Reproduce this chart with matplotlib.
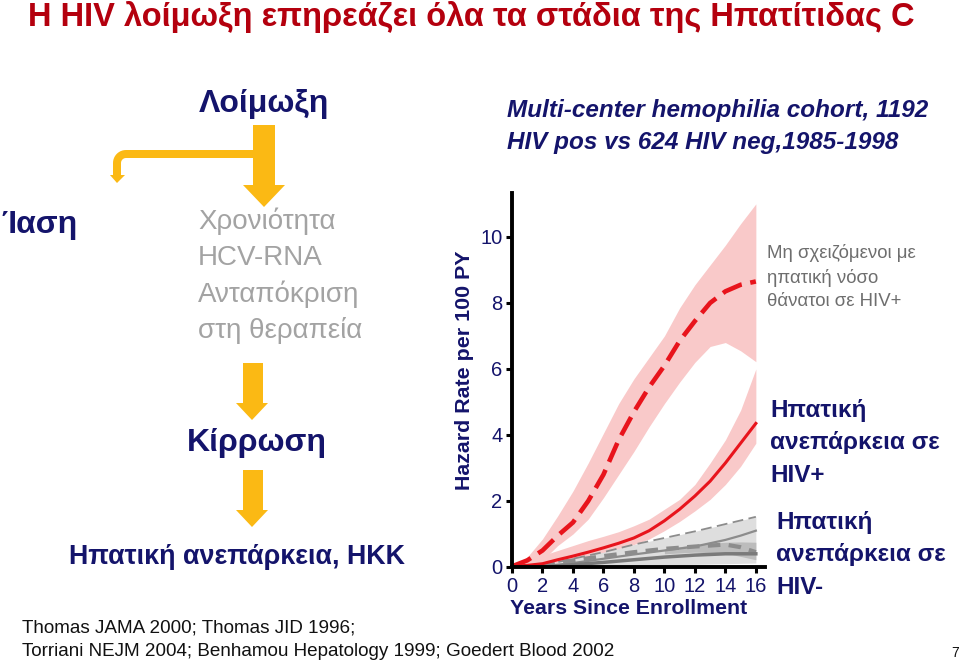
import matplotlib
matplotlib.use("Agg")
import matplotlib.pyplot as plt
from matplotlib.patches import Polygon
import numpy as np

plt.rcParams['font.family'] = ['Liberation Sans', 'DejaVu Sans']

# ---------------- data ----------------
years = [0, 1, 2, 3, 4, 5, 6, 7, 8, 9, 10, 11, 12, 13, 14, 15, 16]
# non-liver deaths in HIV+ (dashed red) with CI
nonliver_hivpos = [0.02, 0.2, 0.5, 0.95, 1.35, 2.0, 2.8, 3.85, 4.7, 5.45, 6.1, 6.85, 7.45, 8.0, 8.35, 8.55, 8.65]
nonliver_hi = [0.05, 0.3, 0.85, 1.55, 2.3, 3.15, 4.05, 4.95, 5.7, 6.35, 7.0, 7.85, 8.55, 9.15, 9.75, 10.4, 11.0]
nonliver_lo = [0.0, 0.05, 0.2, 0.65, 1.0, 1.45, 2.1, 2.8, 3.5, 4.25, 4.95, 5.6, 6.2, 6.68, 6.8, 6.55, 6.22]
# liver failure in HIV+ (solid red) with CI
liver_hivpos = [0.02, 0.05, 0.1, 0.22, 0.33, 0.45, 0.58, 0.72, 0.88, 1.1, 1.4, 1.75, 2.15, 2.6, 3.15, 3.75, 4.35]
liver_hi = [0.05, 0.2, 0.35, 0.5, 0.65, 0.8, 0.93, 1.07, 1.25, 1.45, 1.75, 2.05, 2.5, 3.15, 3.85, 4.75, 6.0]
liver_lo = [0.0, 0.0, 0.0, 0.05, 0.15, 0.27, 0.38, 0.52, 0.68, 0.85, 1.1, 1.38, 1.7, 2.05, 2.5, 3.05, 3.75]

# HIV- curves (gray)
years_neg = [2, 4, 6, 8, 10, 12, 14, 15, 16]
neg_band_hi = [0.05, 0.25, 0.45, 0.68, 0.88, 1.08, 1.3, 1.41, 1.52]
neg_band_lo = [0.0, 0.0, 0.02, 0.05, 0.07, 0.08, 0.1, 0.11, 0.12]
neg_solid_hi = [0.02, 0.12, 0.25, 0.38, 0.5, 0.62, 0.82, 0.95, 1.1]
neg_dashed = [0.05, 0.2, 0.33, 0.45, 0.55, 0.62, 0.68, 0.6, 0.45]
neg_solid_lo = [0.0, 0.07, 0.14, 0.22, 0.3, 0.36, 0.4, 0.4, 0.4]
years_neg_mid = [10, 12, 14, 15, 16]
neg_mid_hi = [0.55, 0.68, 0.75, 0.76, 0.75]
neg_mid_lo = [0.4, 0.45, 0.42, 0.32, 0.22]

xticks = [0, 2, 4, 6, 8, 10, 12, 14, 16]
yticks = [0, 2, 4, 6, 8, 10]

# ---------------- style ----------------
NAVY = '#14146b'
RED = '#e8141c'
PINK = '#f9c9c9'
GOLD = '#fbb914'
GREYTXT = '#a3a3a3'

W, H = 960, 665
fig = plt.figure(figsize=(W / 100, H / 100), dpi=100)
fig.patch.set_facecolor('white')


def fx(x):
    return x / W


def fy(y):
    return 1 - y / H


def ftext(x, y, s, **kw):
    fig.text(fx(x), fy(y), s, **kw)


def farrow(pts):
    poly = Polygon([(fx(a), fy(b)) for a, b in pts], closed=True,
                   transform=fig.transFigure, facecolor=GOLD, edgecolor='none')
    fig.add_artist(poly)


# ---------------- chart ----------------
ax = fig.add_axes([fx(512), fy(567), 253 / W, (567 - 193) / H])
ax.set_xlim(0, 16.6)
ax.set_ylim(0, 11.33)

ax.fill_between(years, nonliver_lo, nonliver_hi, color=PINK, lw=0, zorder=1)
ax.fill_between(years, liver_lo, liver_hi, color=PINK, lw=0, zorder=1)

ax.fill_between(years_neg, neg_band_lo, neg_band_hi, color='#dedede', lw=0, zorder=2)
ax.fill_between(years_neg_mid, neg_mid_lo, neg_mid_hi, color='#bcbcbc', lw=0, zorder=2)
ax.plot(years_neg, neg_band_hi, color='#8c8c8c', lw=1.3, ls=(0, (6, 3)), zorder=3)
ax.plot(years_neg, neg_solid_hi, color='#8c8c8c', lw=1.6, zorder=3)
ax.plot(years_neg, neg_dashed, color='#8c8c8c', lw=3, ls=(0, (3, 2)), zorder=3)
ax.plot(years_neg, neg_solid_lo, color='#7a7a7a', lw=2.5, zorder=3)

ax.plot(years, liver_hivpos, color=RED, lw=2.2, zorder=4)
ax.plot(years, nonliver_hivpos, color=RED, lw=3.3, ls=(0, (4.5, 1.9)), zorder=4)

for s in ['top', 'right']:
    ax.spines[s].set_visible(False)
for s in ['left', 'bottom']:
    ax.spines[s].set_linewidth(2.8)
    ax.spines[s].set_color('black')
ax.spines['left'].set_zorder(6)
ax.spines['bottom'].set_zorder(6)

ax.set_xticks(xticks)
ax.set_yticks(yticks)
ax.tick_params(axis='both', direction='out', length=4, width=2.2, color='black',
               labelsize=14.5, labelcolor=NAVY, pad=3)
ax.patch.set_alpha(0)

ftext(465, 370, 'Hazard Rate per 100 PY', rotation=90, ha='center', va='center',
      fontsize=15.4, fontweight='bold', color=NAVY)
ftext(629, 608, 'Years Since Enrollment', ha='center', va='center',
      fontsize=15.3, fontweight='bold', color=NAVY)

# ---------------- texts ----------------
ftext(28, 17, 'Η HIV λοίμωξη επηρεάζει όλα τα στάδια της Ηπατίτιδας C',
      ha='left', va='center', fontsize=23.5, fontweight='bold', color='#b4000e')

ftext(264, 104, 'Λοίμωξη', ha='center', va='center', fontsize=23,
      fontweight='bold', color=NAVY)

ftext(507, 110, 'Multi-center hemophilia cohort, 1192', ha='left', va='center',
      fontsize=17.5, fontweight='bold', fontstyle='italic', color=NAVY)
ftext(507, 143, 'HIV pos vs 624 HIV neg,1985-1998', ha='left', va='center',
      fontsize=17.5, fontweight='bold', fontstyle='italic', color=NAVY)

ftext(1, 225, 'Ίαση', ha='left', va='center', fontsize=23, fontweight='bold', color=NAVY)

for i, s in enumerate(['Χρονιότητα', 'HCV-RNA', 'Ανταπόκριση', 'στη θεραπεία']):
    ftext(198, 221 + 36.5 * i, s, ha='left', va='center', fontsize=20, color=GREYTXT)

ftext(257, 443, 'Κίρρωση', ha='center', va='center', fontsize=23,
      fontweight='bold', color=NAVY)
ftext(237, 557, 'Ηπατική ανεπάρκεια, ΗΚΚ', ha='center', va='center', fontsize=19.4,
      fontweight='bold', color=NAVY)

for i, s in enumerate(['Μη σχειζόμενοι με', 'ηπατική νόσο', 'θάνατοι σε HIV+']):
    ftext(767, 253 + 24.5 * i, s, ha='left', va='center', fontsize=13.4, color='#6e6e6e')

for i, s in enumerate(['Ηπατική', 'ανεπάρκεια σε', 'HIV+']):
    ftext(770, 410 + 32.5 * i, s, ha='left', va='center', fontsize=17.5,
          fontweight='bold', color=NAVY)
for i, s in enumerate(['Ηπατική', 'ανεπάρκεια σε', 'HIV-']):
    ftext(776, 522 + 32.5 * i, s, ha='left', va='center', fontsize=17.5,
          fontweight='bold', color=NAVY)

ftext(22, 628, 'Thomas JAMA 2000; Thomas JID 1996;', ha='left', va='center',
      fontsize=13.6, color='#111111')
ftext(22, 652, 'Torriani NEJM 2004; Benhamou Hepatology 1999; Goedert Blood 2002',
      ha='left', va='center', fontsize=13.6, color='#111111')
ftext(955, 653, '7', ha='center', va='center', fontsize=10, color='#111111')

# ---------------- arrows ----------------
# big arrow under "Λοίμωξη"
farrow([(253, 125), (275, 125), (275, 185), (285, 185), (264, 207), (243, 185), (253, 185)])
# bent arrow to "Ίαση"
th = np.linspace(0, np.pi / 2, 12)
r_out, r_in = 13, 5
cx, cy = 126, 163
outer = [(cx - r_out * np.cos(t), cy - r_out * np.sin(t)) for t in th]
inner = [(cx - r_in * np.cos(t), cy - r_in * np.sin(t)) for t in th[::-1]]
bent = [(113, 175)] + outer + [(264, 150), (264, 158)] + inner + [(121, 175), (125, 175),
                                                                    (117, 183), (110, 175)]
farrow(bent)
# arrow to "Κίρρωση"
farrow([(243, 363), (263, 363), (263, 403), (268, 403), (252, 420), (236, 403), (243, 403)])
# arrow to "Ηπατική ανεπάρκεια, ΗΚΚ"
farrow([(243, 470), (263, 470), (263, 510), (268, 510), (252, 527), (236, 510), (243, 510)])

fig.savefig('out.png', dpi=100, facecolor='white')
